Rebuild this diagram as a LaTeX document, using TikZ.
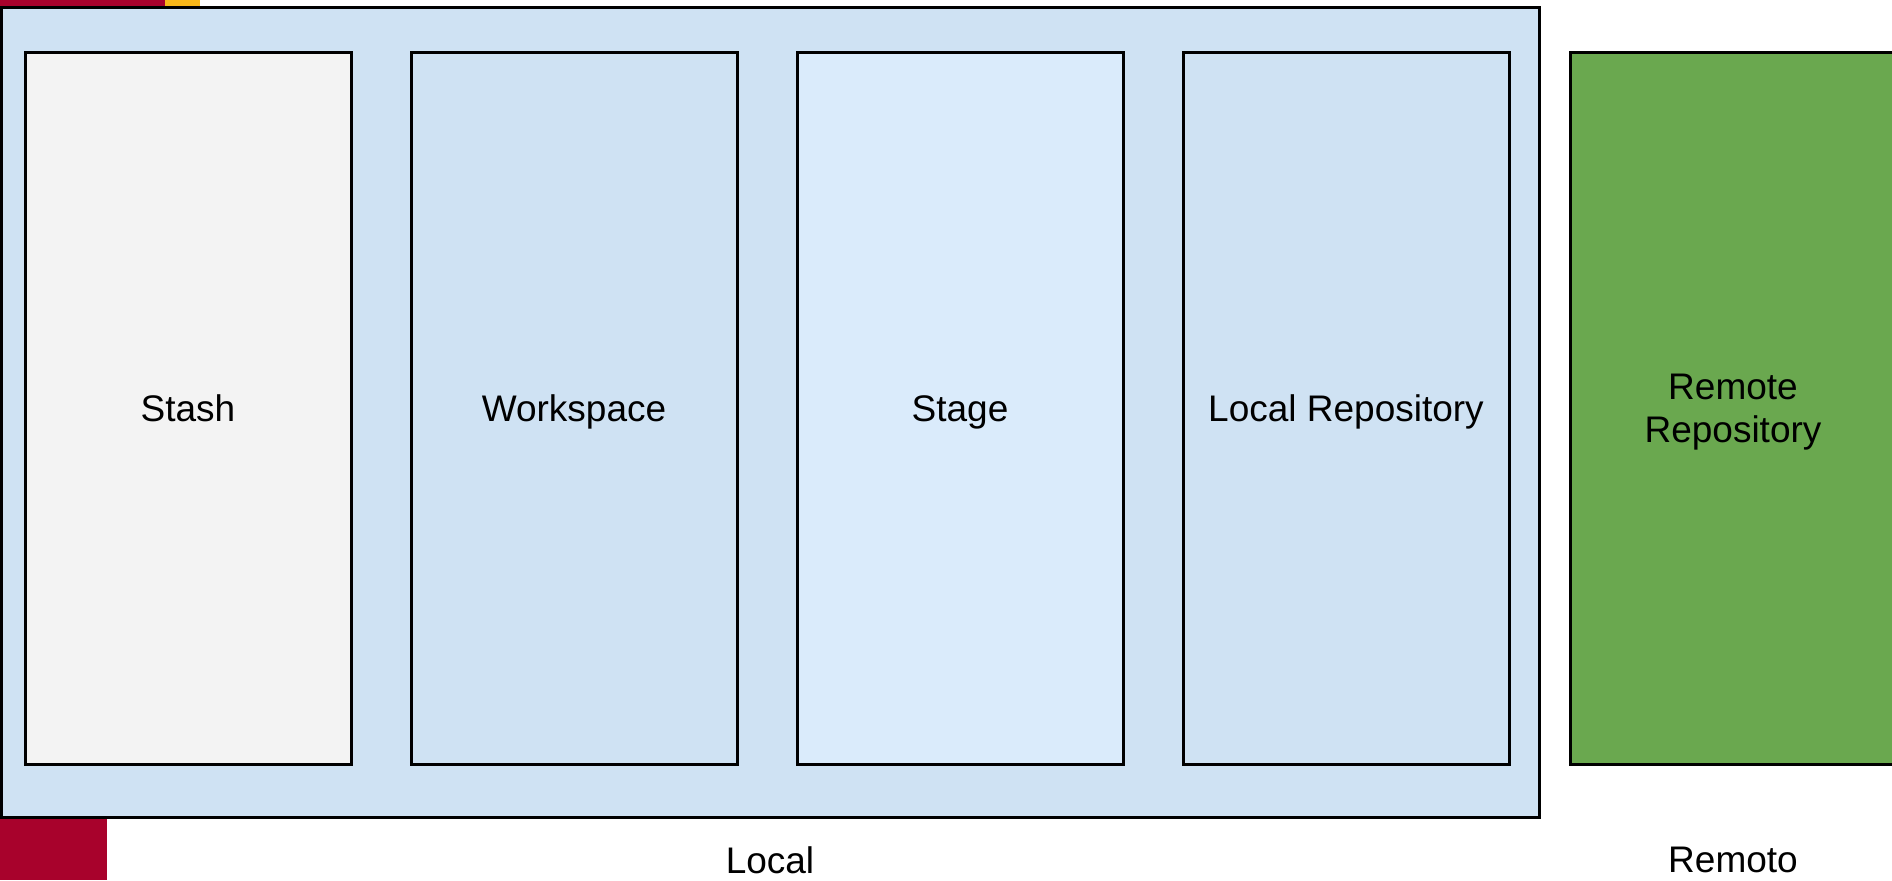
\documentclass[tikz,border=0pt]{standalone}
\usepackage{fontspec}
\setmainfont{Liberation Sans}
\definecolor{localblue}{HTML}{CFE2F3}
\definecolor{stashgray}{HTML}{F3F3F3}
\definecolor{stageblue}{HTML}{DAEBFB}
\definecolor{remotegreen}{HTML}{6AA84F}
\definecolor{logored}{HTML}{A8022C}
\definecolor{logoyellow}{HTML}{F8B719}
\tikzset{
  area/.style={draw=black, line width=1.5pt, minimum width=163pt, minimum height=356pt,
    align=center, font=\fontsize{18.5}{21.5}\selectfont, text height=13.2pt, text depth=-2pt},
  caption/.style={font=\fontsize{18.5}{21.5}\selectfont}
}
\begin{document}
\begin{tikzpicture}[x=0.5pt, y=-0.5pt]
	\useasboundingbox (0,0) rectangle (1892,880);
	% bits of the logo behind
	\fill[logored] (0,0) rectangle (165,6);
	\fill[logoyellow] (165,0) rectangle (200,6);
	\fill[logored] (0,818) rectangle (107,880);
	% local side
	\node[draw=black, line width=1.5pt, fill=localblue, minimum width=769pt, minimum height=405pt] (local) at (770,412) {};
	\node[area, fill=stashgray] (stash) at (188,408) {Stash};
	\node[area, fill=localblue] (workspace) at (574,408) {Workspace};
	\node[area, fill=stageblue] (stage) at (960,408) {Stage};
	\node[area, fill=localblue] (localrepo) at (1346,408) {Local Repository};
	% remote side
	\node[area, fill=remotegreen, text height=34.7pt] (remoterepo) at (1733,408) {Remote\\Repository};
	\node[caption] (locallabel) at (770,860) {Local};
	\node[caption] (remotelabel) at (1733,860) {Remoto};
\end{tikzpicture}
\end{document}
